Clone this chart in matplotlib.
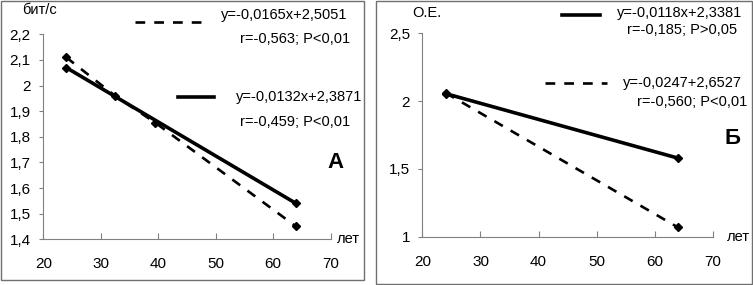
import matplotlib
matplotlib.use("Agg")
import matplotlib.pyplot as plt
from matplotlib.lines import Line2D
from matplotlib.patches import Rectangle

plt.rcParams["font.family"] = ["Liberation Sans", "DejaVu Sans"]
plt.rcParams["lines.scale_dashes"] = False

# =========================================================
# Data
# =========================================================
age_ticks = [20, 30, 40, 50, 60, 70]

# panel A (бит/с)
a_dash_x = [24, 32.5, 39.5, 64]
a_dash_y = [2.11, 1.96, 1.855, 1.45]
a_solid_x = [24, 64]
a_solid_y = [2.07, 1.54]
a_yticks = [1.4, 1.5, 1.6, 1.7, 1.8, 1.9, 2.0, 2.1, 2.2]
a_ylabels = ["1,4", "1,5", "1,6", "1,7", "1,8", "1,9", "2", "2,1", "2,2"]

# panel Б (О.Е.)
b_solid_x = [24, 64]
b_solid_y = [2.055, 1.58]
b_dash_x = [24, 64]
b_dash_y = [2.06, 1.07]
b_yticks = [1.0, 1.5, 2.0, 2.5]
b_ylabels = ["1", "1,5", "2", "2,5"]

W, H = 753, 285
FS = 10.5
TICK_FS = 11
DASH = (7, 6.5)
DASH_LW = 1.9
SOLID_LW = 2.6
GREY = "#808080"


def px(x, y):
    return x / W, 1 - y / H


def style_axes(ax, xlim, ylim, yticks, ylabels):
    ax.set_xlim(*xlim)
    ax.set_ylim(*ylim)
    ax.set_xticks(age_ticks)
    ax.set_yticks(yticks)
    ax.set_yticklabels(ylabels)
    for side in ["top", "right"]:
        ax.spines[side].set_visible(False)
    for side in ["left", "bottom"]:
        ax.spines[side].set_color(GREY)
        ax.spines[side].set_linewidth(0.8)
    ax.tick_params(axis="x", direction="in", length=4, color=GREY, pad=13, labelsize=TICK_FS)
    ax.tick_params(axis="y", direction="out", length=3, color=GREY, pad=6, labelsize=TICK_FS)
    ax.patch.set_visible(False)


def legend_line(fig, x0, x1, y, dashed):
    (fx0, fy), (fx1, _) = px(x0, y), px(x1, y)
    if dashed:
        ln = Line2D([fx0, fx1], [fy, fy], color="black", lw=DASH_LW, dashes=DASH,
                    transform=fig.transFigure)
    else:
        ln = Line2D([fx0, fx1], [fy, fy], color="black", lw=SOLID_LW,
                    transform=fig.transFigure)
    fig.add_artist(ln)


def ftext(fig, x, y, s, ha="left", **kw):
    fx, fy = px(x, y)
    fig.text(fx, fy, s, ha=ha, va="center", fontsize=kw.pop("fontsize", FS), **kw)


fig = plt.figure(figsize=(W / 100, H / 100), dpi=100)

# panel frames
for (x0, y0, x1, y1) in [(1, 1, 364, 280), (376, 1, 752, 284)]:
    fx0, fy1 = px(x0, y1)
    fx1, fy0 = px(x1, y0)
    fig.add_artist(Rectangle((fx0, fy1), fx1 - fx0, fy0 - fy1, fill=False,
                             edgecolor="#707070", lw=1.0, transform=fig.transFigure))

# ---------------- panel A ----------------
ax1 = fig.add_axes([43.3 / W, 1 - 239.3 / H, 287.2 / W, 205.0 / H])
style_axes(ax1, (20, 70), (1.4, 2.2), a_yticks, a_ylabels)
ax1.plot(a_dash_x, a_dash_y, color="black", lw=DASH_LW, dashes=DASH,
         marker="D", ms=4)
ax1.plot(a_solid_x, a_solid_y, color="black", lw=SOLID_LW, marker="D", ms=4)

ftext(fig, 22, 10, "бит/с")
ftext(fig, 337, 239, "лет")
legend_line(fig, 135, 203, 21.5, dashed=True)
ftext(fig, 347, 15, "y=-0,0165x+2,5051", ha="right")
ftext(fig, 350, 39, "r=-0,563; P<0,01", ha="right")
legend_line(fig, 178, 214, 97, dashed=False)
ftext(fig, 362, 97, "y=-0,0132x+2,3871", ha="right")
ftext(fig, 350, 122, "r=-0,459; P<0,01", ha="right")
ftext(fig, 335, 163, "А", ha="center", fontsize=16, fontweight="bold")

# ---------------- panel Б ----------------
ax2 = fig.add_axes([422.5 / W, 1 - 236.7 / H, 290.0 / W, 203.4 / H])
style_axes(ax2, (20, 70), (1.0, 2.5), b_yticks, b_ylabels)
ax2.plot(b_dash_x, b_dash_y, color="black", lw=DASH_LW, dashes=DASH, marker="D", ms=4.5)
ax2.plot(b_solid_x, b_solid_y, color="black", lw=SOLID_LW, marker="D", ms=4.5)

ftext(fig, 412, 13, "О.Е.")
ftext(fig, 727, 237, "лет")
legend_line(fig, 562, 600, 15, dashed=False)
ftext(fig, 742, 12.5, "y=-0,0118x+2,3381", ha="right")
ftext(fig, 737, 30, "r=-0,185; P>0,05", ha="right")
legend_line(fig, 545, 607, 83, dashed=True)
ftext(fig, 742, 83, "y=-0,0247+2,6527", ha="right")
ftext(fig, 747, 102, "r=-0,560; P<0,01", ha="right")
ftext(fig, 732, 139, "Б", ha="center", fontsize=16, fontweight="bold")

fig.savefig("out.png", dpi=100)
